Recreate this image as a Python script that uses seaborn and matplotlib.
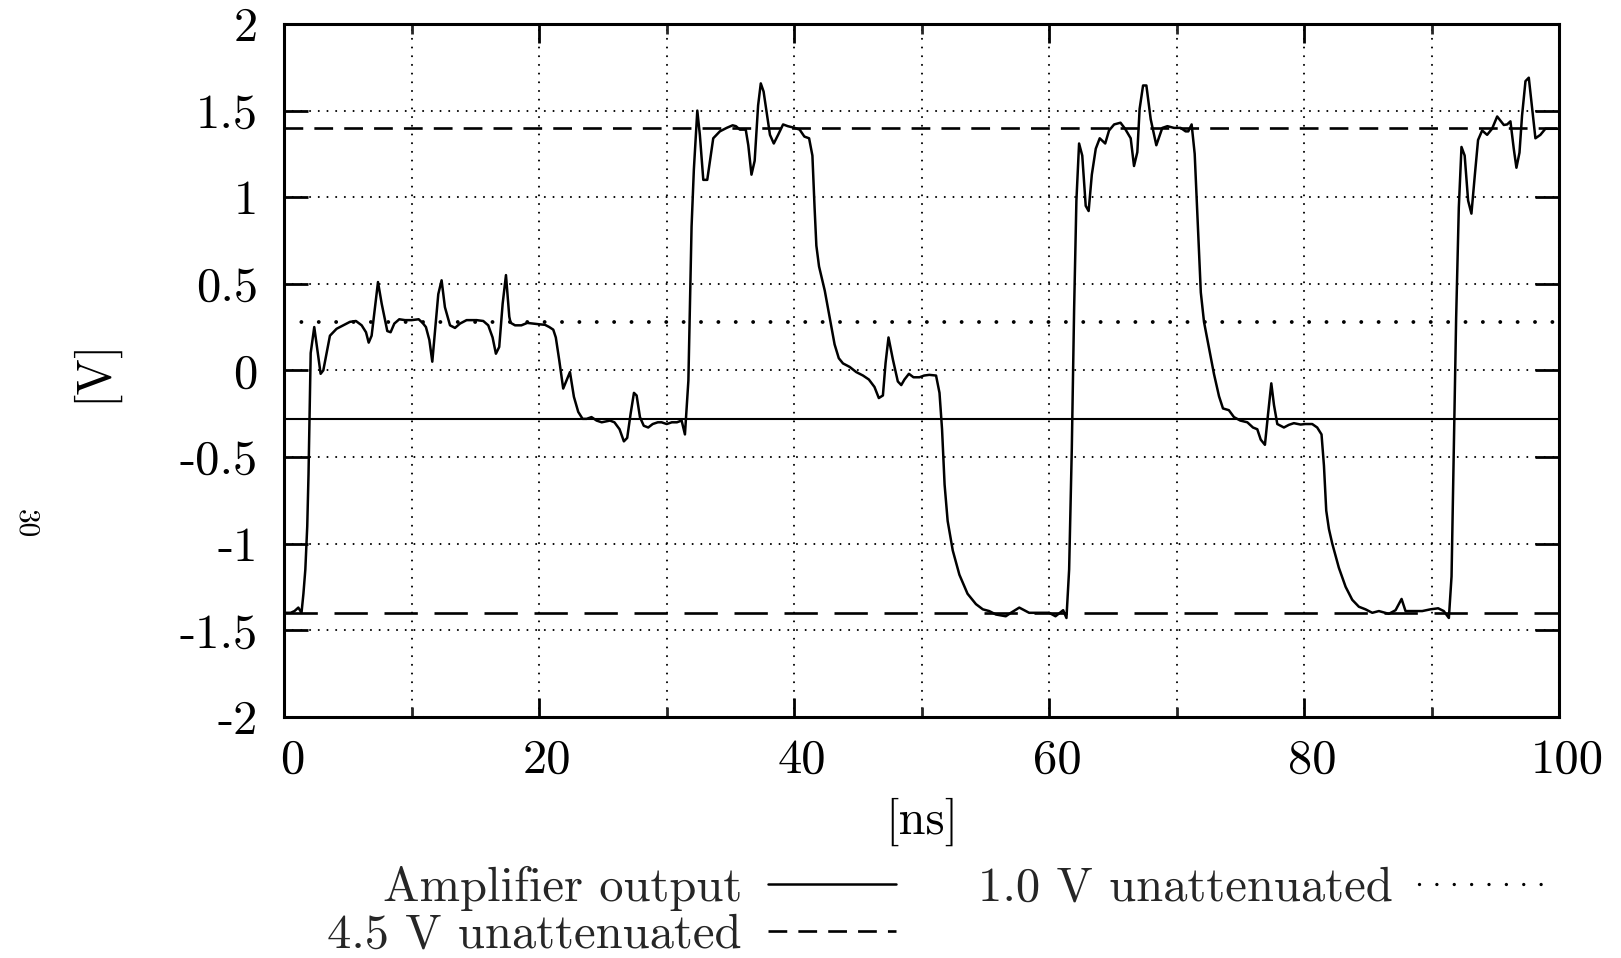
import numpy as np
import pandas as pd
import matplotlib
matplotlib.use("Agg")
import matplotlib.pyplot as plt
from matplotlib.lines import Line2D
from matplotlib.transforms import ScaledTranslation
import seaborn as sns

# ---------------- data ----------------
t_ns = [0, 0.5, 0.8, 1.1, 1.35, 1.5, 1.65, 1.8, 1.9, 2.0, 2.07, 2.35, 2.85, 3.06, 3.58, 4.1, 4.63,
        5.15, 5.62, 6.07, 6.41, 6.62, 6.85, 7.35, 7.64, 8.08, 8.34, 8.63, 9.02, 9.47, 9.99, 10.54,
        10.85, 11.11, 11.38, 11.61, 12.08, 12.34, 12.6, 13.0, 13.39, 13.78, 14.3, 15.09, 15.61, 16.0,
        16.34, 16.6, 16.86, 17.13, 17.39, 17.65, 17.75, 18.1, 18.6, 19.06, 19.53, 20.0, 20.45, 20.79,
        21.1, 21.3, 21.57, 21.88, 22.41, 22.72, 23.06, 23.4, 23.72, 24.1, 24.5, 24.9, 25.55, 25.9,
        26.3, 26.64, 26.9, 27.17, 27.43, 27.64, 27.9, 28.2, 28.55, 28.9, 29.3, 29.6, 30.0, 30.4, 30.8,
        31.17, 31.43, 31.7, 31.95, 32.13, 32.4,
        32.6, 32.87, 33.18, 33.65, 34.17, 34.7, 35.17, 35.43, 35.74, 36.2, 36.4, 36.65, 36.9, 37.17,
        37.38, 37.6, 38.1, 38.4, 38.74, 39.13, 39.5, 40.04, 40.43, 40.8, 41.17, 41.43, 41.6, 41.74,
        41.95, 42.4, 42.8, 43.17, 43.5, 43.83, 44.35, 44.87, 45.4, 45.86, 46.3, 46.64, 46.96, 47.17,
        47.4, 47.74, 48.13, 48.4, 48.65, 49.0, 49.36, 49.83, 50.2, 50.6, 51.13, 51.4, 51.6, 51.8,
        52.04, 52.44, 52.96, 53.6, 54.26, 54.8, 55.3, 55.83, 56.6, 57.0, 57.66, 58.43, 59.2, 60.0,
        60.5, 60.84, 61.1, 61.36, 61.57, 61.78, 61.96, 62.14, 62.35, 62.6, 62.87, 63.1, 63.35, 63.66,
        63.97, 64.4, 64.7, 65.1, 65.6, 65.96, 66.4, 66.66, 66.92, 67.1, 67.37, 67.63, 67.97, 68.41,
        68.88, 69.28, 69.8, 70.32, 70.71, 70.92, 71.18, 71.42, 71.63, 71.9, 72.15, 72.54, 72.93,
        73.33, 73.64, 74.1, 74.5, 75.0, 75.55, 75.99, 76.33, 76.6, 76.93, 77.17, 77.43, 77.64, 77.9,
        78.42, 78.8, 79.2, 79.73, 80.1, 80.64, 81.03, 81.37, 81.56, 81.74, 81.95, 82.21, 82.73,
        83.26, 83.78, 84.3, 84.82, 85.35, 85.87, 86.65, 87.18, 87.65, 87.96, 88.6, 89.27, 89.92,
        90.52, 90.96, 91.36, 91.57, 91.75, 91.93, 92.14, 92.35, 92.6, 92.87, 93.13, 93.4, 93.65,
        93.97, 94.36, 94.75, 95.15, 95.67, 95.93, 96.19, 96.45, 96.66, 96.9, 97.1, 97.37, 97.63,
        97.9, 98.15, 98.54, 98.93, 100]

amp_out = [-1.40, -1.40, -1.39, -1.37, -1.40, -1.29, -1.15, -0.90, -0.60, -0.20, 0.10, 0.25, -0.02,
           0.00, 0.20, 0.24, 0.26, 0.28, 0.285, 0.26, 0.22, 0.16, 0.20, 0.51, 0.385, 0.227, 0.22,
           0.27, 0.295, 0.29, 0.29, 0.295, 0.274, 0.25, 0.175, 0.05, 0.44, 0.52, 0.365, 0.26, 0.245,
           0.27, 0.29, 0.29, 0.285, 0.26, 0.19, 0.096, 0.135, 0.385, 0.55, 0.31, 0.275, 0.26, 0.26,
           0.274, 0.27, 0.266, 0.263, 0.25, 0.235, 0.19, 0.058, -0.105, -0.01, -0.153, -0.24, -0.28,
           -0.28, -0.27, -0.29, -0.30, -0.29, -0.30, -0.34, -0.41, -0.39, -0.25, -0.13, -0.145, -0.27,
           -0.32, -0.33, -0.31, -0.30, -0.30, -0.31, -0.30, -0.30, -0.29, -0.37, -0.06, 0.83, 1.16,
           1.50,
           1.36, 1.10, 1.10, 1.34, 1.38, 1.40, 1.415, 1.41, 1.39, 1.39, 1.30, 1.13, 1.21, 1.53, 1.657,
           1.61, 1.36, 1.31, 1.36, 1.42, 1.41, 1.40, 1.39, 1.35, 1.34, 1.24, 0.94, 0.72, 0.60, 0.46,
           0.30, 0.15, 0.07, 0.04, 0.02, -0.01, -0.03, -0.053, -0.096, -0.16, -0.145, 0.043, 0.19,
           0.064, -0.064, -0.085, -0.053, -0.02, -0.04, -0.04, -0.03, -0.026, -0.03, -0.13, -0.34,
           -0.66, -0.87, -1.04, -1.18, -1.29, -1.35, -1.38, -1.39, -1.41, -1.42, -1.40, -1.37, -1.40,
           -1.40, -1.40, -1.42, -1.40, -1.385, -1.43, -1.15, -0.45, 0.35, 0.98, 1.31, 1.24, 0.95,
           0.92, 1.13, 1.28, 1.34, 1.31, 1.385, 1.42, 1.43, 1.395, 1.34, 1.18, 1.26, 1.51, 1.645,
           1.645, 1.45, 1.30, 1.40, 1.41, 1.40, 1.40, 1.38, 1.38, 1.42, 1.25, 0.895, 0.45, 0.28, 0.13,
           -0.02, -0.15, -0.22, -0.23, -0.27, -0.29, -0.30, -0.33, -0.34, -0.40, -0.43, -0.256,
           -0.075, -0.20, -0.31, -0.33, -0.315, -0.305, -0.313, -0.31, -0.31, -0.33, -0.37, -0.55,
           -0.81, -0.916, -1.00, -1.14, -1.25, -1.325, -1.365, -1.38, -1.40, -1.39, -1.406, -1.385,
           -1.32, -1.39, -1.39, -1.39, -1.38, -1.374, -1.39, -1.43, -1.19, -0.45, 0.30, 0.94, 1.29,
           1.24, 0.98, 0.905, 1.13, 1.33, 1.385, 1.36, 1.395, 1.466, 1.417, 1.42, 1.438, 1.28, 1.17,
           1.257, 1.47, 1.67, 1.69, 1.51, 1.34, 1.36, 1.395, 1.395]

level_45_high = 1.4      # 4.5 V unattenuated (dashed)
level_45_low = -1.4
level_10_high = 0.28     # 1.0 V unattenuated (dotted)
level_ref_low = -0.28    # solid reference line

x_ticks = [0, 20, 40, 60, 80, 100]
x_tick_labels = ["0", "20", "40", "60", "80", "100"]
x_minor_ticks = [10, 30, 50, 70, 90]
y_ticks = [2, 1.5, 1, 0.5, 0, -0.5, -1, -1.5, -2]
y_tick_labels = ["2", "1.5", "1", "0.5", "0", "-0.5", "-1", "-1.5", "-2"]

legend_labels = ["Amplifier output", "4.5 V unattenuated", "1.0 V unattenuated"]

# ---------------- style ----------------
sns.set_theme(style="white")
FS = 35
plt.rcParams["font.family"] = ["cmr10", "DejaVu Serif"]
plt.rcParams["mathtext.fontset"] = "cm"
plt.rcParams["axes.unicode_minus"] = False
plt.rcParams["axes.formatter.use_mathtext"] = True
plt.rcParams["lines.scale_dashes"] = False

fig = plt.figure(figsize=(16.21, 9.58), dpi=100)
ax = fig.add_axes([284.3 / 1621, 1 - 716.7 / 958, (1559 - 284.3) / 1621, (716.7 - 24) / 958])

df = pd.DataFrame({"t": t_ns, "v": amp_out})
sns.lineplot(data=df, x="t", y="v", ax=ax, color="black", linewidth=1.8, zorder=5,
             estimator=None, sort=False)

ax.axhline(level_45_high, color="black", linewidth=1.9, linestyle=(0, (13.5, 8.0)),
           dash_capstyle="butt", zorder=4)
ax.axhline(level_45_low, color="black", linewidth=1.9, linestyle=(0, (24.0, 12.0)),
           dash_capstyle="butt", zorder=4)
ax.axhline(level_10_high, color="black", linewidth=2.8, linestyle=(0, (0.01, 12.5)),
           dash_capstyle="round", zorder=4)
ax.axhline(level_ref_low, color="black", linewidth=1.5, linestyle="-", zorder=4)

ax.set_xlim(0, 100)
ax.set_ylim(-2, 2)
ax.set_xticks(x_ticks)
ax.set_xticklabels(x_tick_labels)
ax.set_xticks(x_minor_ticks, minor=True)
ax.set_yticks(y_ticks)
ax.set_yticklabels(y_tick_labels)

ax.grid(True, which="both", axis="x", color="black", linewidth=1.5,
        linestyle=(0, (0.01, 6.25)), dash_capstyle="round")
ax.grid(True, which="major", axis="y", color="black", linewidth=1.5,
        linestyle=(0, (0.01, 6.25)), dash_capstyle="round")
ax.set_axisbelow(True)

ax.tick_params(axis="y", which="major", direction="in", length=17, width=2.0,
               left=True, right=True, labelsize=FS, pad=19, colors="black")
ax.tick_params(axis="x", which="major", direction="in", length=13.5, width=2.0,
               bottom=True, top=True, labelsize=FS, pad=16, colors="black")
ax.tick_params(axis="x", which="minor", direction="in", length=7, width=2.0,
               bottom=True, top=True)

for s in ax.spines.values():
    s.set_visible(True)
    s.set_color("black")
    s.set_linewidth(2.2)

ax.set_xlabel("[ns]", fontsize=FS, color="black")
ax.set_ylabel("[V]", fontsize=FS, color="black")
ax.xaxis.set_label_coords(0.5, -(822 - 716.7) / 692.7)
ax.xaxis.label.set_va("center")
ax.yaxis.set_label_coords(-(284.3 - 93) / 1274.7, 0.5)
ax.yaxis.label.set_va("center")

for lab in ax.get_xticklabels():
    lab.set_transform(lab.get_transform() + ScaledTranslation(8 / 100, 0, fig.dpi_scale_trans))

handles = [
    Line2D([], [], color="black", linewidth=1.8, linestyle="-"),
    Line2D([], [], color="black", linewidth=1.9, linestyle=(0, (13.5, 8.0)), dash_capstyle="butt"),
    Line2D([], [], color="black", linewidth=2.4, linestyle=(0, (0.01, 12.5)), dash_capstyle="round"),
]
fig.legend(handles, legend_labels, loc="upper center",
           bbox_to_anchor=(937 / 1621, 1 - 866 / 958), ncol=2, markerfirst=False,
           frameon=False, fontsize=FS, handlelength=2.63, handletextpad=0.53,
           columnspacing=1.7, labelspacing=0.05, borderpad=0.0, borderaxespad=0.0)

fig.text(25 / 1621, 1 - 524 / 958, "30", rotation=270, fontsize=21, ha="center", va="center",
         color="black")

fig.savefig("out.png", dpi=100, facecolor="white")
